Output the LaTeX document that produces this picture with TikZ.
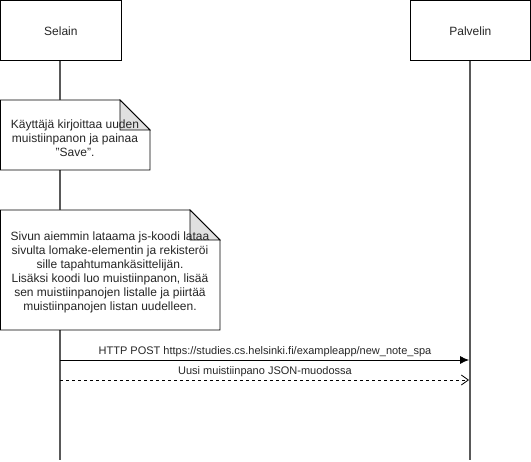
\documentclass[tikz,border=0pt]{standalone}
\usepackage{fontspec}
\setmainfont{Liberation Sans}
\usetikzlibrary{arrows.meta}
\begin{document}
\begin{tikzpicture}[x=1pt,y=-1pt,
  every node/.style={font=\fontsize{12}{14}\selectfont, text=black!85, inner sep=0pt},
  actor/.style={draw=black, line width=0.8pt, fill=white, minimum width=120pt, minimum height=60pt, anchor=north west},
  life/.style={draw=black!65, line width=1.6pt},
  notefold/.style={draw=black, line width=0.8pt, fill=white},
  foldc/.style={draw=black, line width=0.8pt, fill=black!12},
  msg/.style={draw=black, line width=0.8pt},
  lbl/.style={font=\fontsize{11}{13}\selectfont}
]
\useasboundingbox (0,0) rectangle (531,462);
% lifelines
\coordinate (s0) at (60,60);
\coordinate (s1) at (60,460);
\coordinate (p0) at (470,60);
\coordinate (p1) at (470,460);
\draw[life] (s0) -- (s1);
\draw[life] (p0) -- (p1);
% actors
\node[actor] (selain) at (0.5,0.5) {Selain};
\node[actor] (palvelin) at (410,0.5) {Palvelin};
% note 1
\coordinate (n1a) at (0.5,100);
\coordinate (n1b) at (120,100);
\coordinate (n1c) at (150,130);
\coordinate (n1d) at (150,170);
\coordinate (n1e) at (0.5,170);
\draw[notefold] (n1a) -- (n1b) -- (n1c) -- (n1d) -- (n1e) -- cycle;
\draw[foldc] (n1b) -- (n1c) -- (n1b |- n1c) -- cycle;
\node[align=center] (note1) at (75,138) {Käyttäjä kirjoittaa uuden\\muistiinpanon ja painaa\\"Save".};
% note 2
\coordinate (n2a) at (0.5,210);
\coordinate (n2b) at (190,210);
\coordinate (n2c) at (220,240);
\coordinate (n2d) at (220,330);
\coordinate (n2e) at (0.5,330);
\draw[notefold] (n2a) -- (n2b) -- (n2c) -- (n2d) -- (n2e) -- cycle;
\draw[foldc] (n2b) -- (n2c) -- (n2b |- n2c) -- cycle;
\node[align=center] (note2) at (110,272) {Sivun aiemmin lataama js-koodi lataa\\sivulta lomake-elementin ja rekisteröi\\sille tapahtumankäsittelijän.\\Lisäksi koodi luo muistiinpanon, lisää\\sen muistiinpanojen listalle ja piirtää\\muistiinpanojen listan uudelleen.};
% messages
\coordinate (m1s) at (60,360);
\coordinate (m1e) at (469,360);
\coordinate (m2s) at (60,380);
\coordinate (m2e) at (469,380);
\draw[msg, -{Latex[length=9pt,width=8pt]}] (m1s) -- (m1e);
\node[lbl] (l1) at (265,352) {HTTP POST https://studies.cs.helsinki.fi/exampleapp/new\_note\_spa};
\draw[msg, dashed, dash pattern=on 3pt off 3pt, -{Straight Barb[length=7pt,width=10pt]}] (m2s) -- (m2e);
\node[lbl] (l2) at (265,372) {Uusi muistiinpano JSON-muodossa};
\end{tikzpicture}
\end{document}
